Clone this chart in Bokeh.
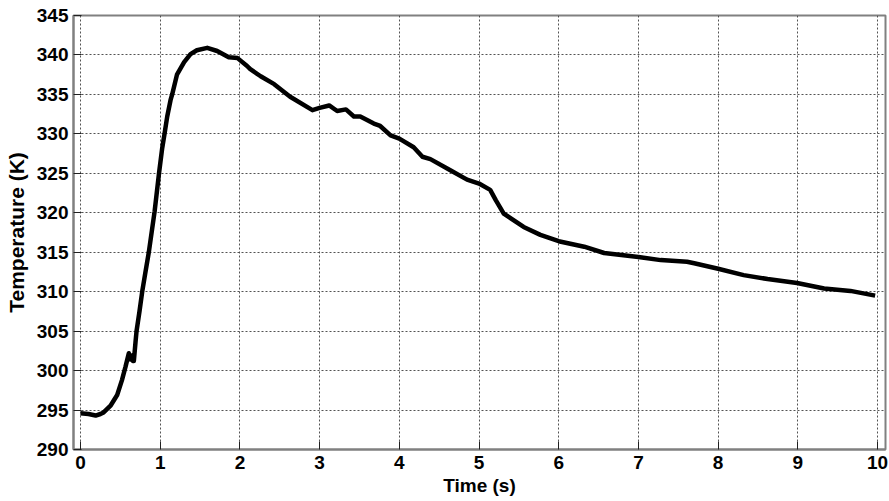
from bokeh.plotting import figure
from bokeh.models import Range1d, FixedTicker
from bokeh.embed import file_html
from bokeh.resources import INLINE

time_s = [0.0, 0.1, 0.19, 0.25, 0.29, 0.38, 0.46, 0.52, 0.565, 0.606, 0.625, 0.648,
          0.66, 0.669, 0.69, 0.703, 0.74, 0.774, 0.81, 0.857, 0.93, 0.985, 1.025,
          1.054, 1.088, 1.13, 1.15, 1.21, 1.30, 1.38, 1.46, 1.59, 1.715, 1.86, 1.97,
          2.09, 2.13, 2.26, 2.43, 2.63, 2.91, 3.0, 3.12, 3.22, 3.33, 3.43, 3.51, 3.68,
          3.76, 3.89, 4.0, 4.18, 4.29, 4.39, 4.64, 4.85, 5.0, 5.14, 5.21, 5.31, 5.56,
          5.77, 6.0, 6.32, 6.57, 7.0, 7.28, 7.61, 7.7, 8.0, 8.32, 8.62, 8.99, 9.33,
          9.66, 9.97]
temperature_k = [294.6, 294.5, 294.3, 294.5, 294.7, 295.6, 296.9, 298.8, 300.5, 302.2,
                 301.4, 301.9, 301.2, 301.2, 303.6, 305.0, 307.5, 310.0, 312.2, 315.0,
                 320.2, 325.0, 328.2, 330.0, 332.2, 334.3, 335.0, 337.5, 339.1, 340.1,
                 340.6, 340.9, 340.5, 339.7, 339.6, 338.6, 338.2, 337.3, 336.3, 334.7,
                 333.0, 333.3, 333.6, 332.9, 333.1, 332.2, 332.2, 331.3, 331.0, 329.8,
                 329.4, 328.3, 327.1, 326.8, 325.4, 324.2, 323.7, 322.9, 321.6, 319.9,
                 318.2, 317.2, 316.4, 315.7, 314.9, 314.4, 314.0, 313.8, 313.6, 312.9,
                 312.1, 311.6, 311.1, 310.4, 310.1, 309.5]

x_ticks = [0, 1, 2, 3, 4, 5, 6, 7, 8, 9, 10]
y_ticks = [290, 295, 300, 305, 310, 315, 320, 325, 330, 335, 340, 345]

FONT = "Liberation Sans"

p = figure(width=889, height=501, output_backend="svg", toolbar_location=None,
           x_range=Range1d(-0.088, 10.1), y_range=Range1d(290, 345),
           min_border_left=73, min_border_right=4, min_border_top=15, min_border_bottom=52)

p.line(time_s, temperature_k, line_color="black", line_width=4.5, line_join="round")

p.outline_line_color = "#808080"
p.outline_line_width = 2

for ax, ticks in ((p.xaxis[0], x_ticks), (p.yaxis[0], y_ticks)):
    ax.ticker = FixedTicker(ticks=ticks)
    ax.axis_line_color = "#808080"
    ax.axis_line_width = 2
    ax.major_tick_in = 8
    ax.major_tick_out = 0
    ax.major_tick_line_color = "#202020"
    ax.minor_tick_line_color = None
    ax.major_label_text_font = FONT
    ax.major_label_text_font_style = "bold"
    ax.major_label_text_font_size = "19px"
    ax.major_label_text_color = "black"
    ax.axis_label_text_font = FONT
    ax.axis_label_text_font_style = "bold"
    ax.axis_label_text_color = "black"

p.xaxis[0].axis_label = "Time (s)"
p.xaxis[0].axis_label_text_font_size = "19px"
p.xaxis[0].major_label_standoff = 6
p.xaxis[0].axis_label_standoff = 3
p.yaxis[0].axis_label = "Temperature (K)"
p.yaxis[0].axis_label_text_font_size = "21px"
p.yaxis[0].major_label_standoff = 5
p.yaxis[0].axis_label_standoff = 6

for g, ticks in ((p.xgrid[0], x_ticks), (p.ygrid[0], y_ticks)):
    g.ticker = FixedTicker(ticks=ticks)
    g.grid_line_color = "#404040"
    g.grid_line_dash = "2 2"
    g.grid_line_width = 1
    g.grid_line_alpha = 0.9

open("out.html", "w").write(file_html(p, INLINE))
